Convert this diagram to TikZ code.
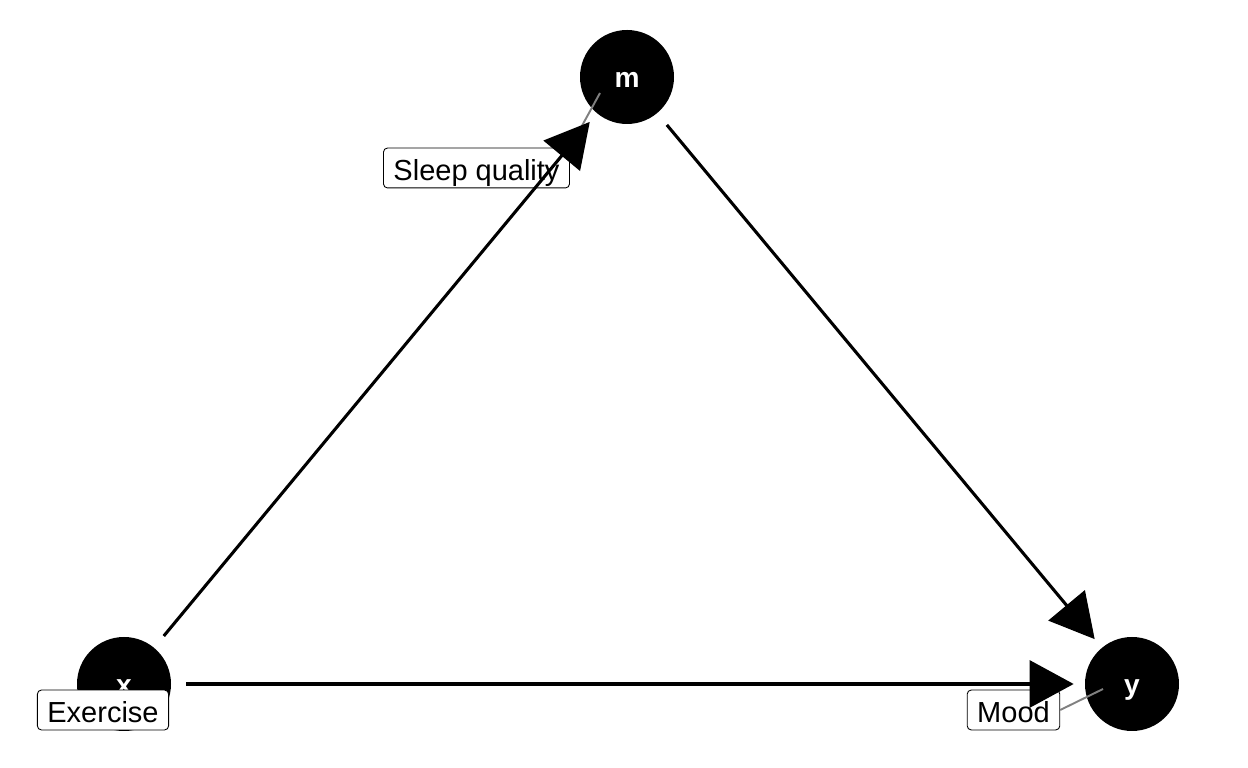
\documentclass[tikz,border=0pt]{standalone}
\usepackage{fontspec}
\setmainfont{Liberation Sans}
\usetikzlibrary{arrows.meta}

\begin{document}
\begin{tikzpicture}[
  var/.style={circle, fill=black, minimum size=1.88cm, inner sep=0pt, text height=11.8pt, text depth=0pt, text=white, font=\bfseries\fontsize{16}{19}\selectfont},
  lbl/.style={draw=black, line width=0.5pt, fill=white, rounded corners=0.08cm, inner xsep=0.2cm, inner ysep=2.25pt, text height=16pt, text depth=2.2pt, font=\fontsize{16.5}{19}\selectfont},
  pin/.style={draw=black!50, line width=1.1pt}]
\useasboundingbox (0, 0) rectangle (24.96, 15.36);

% variables
\node[var] at (12.54, 13.82) (m) {m};
\node[var] at (2.48, 1.68) (x) {x};
\node[var] at (22.64, 1.68) (y) {y};

% labels
\coordinate (m-pin) at (12.0, 13.5);
\coordinate (y-pin) at (22.06, 1.58);
\node[lbl] at (9.53, 12.0) (sleep) {Sleep quality};
\node[lbl] at (2.06, 1.16) (exercise) {Exercise};
\node[lbl] at (20.27, 1.16) (mood) {Mood};
\draw[pin] (sleep.north east) -- (m-pin);
\draw[pin] (mood.east) -- (y-pin);

% paths
\begin{scope}[line width=1.75pt, -{Triangle[length=0.88cm, width=0.94cm]}, shorten <=0.3cm, shorten >=0.22cm]
\draw (x) -- (m);
\draw (m) -- (y);
\draw (x) -- (y);
\end{scope}
\end{tikzpicture}
\end{document}
